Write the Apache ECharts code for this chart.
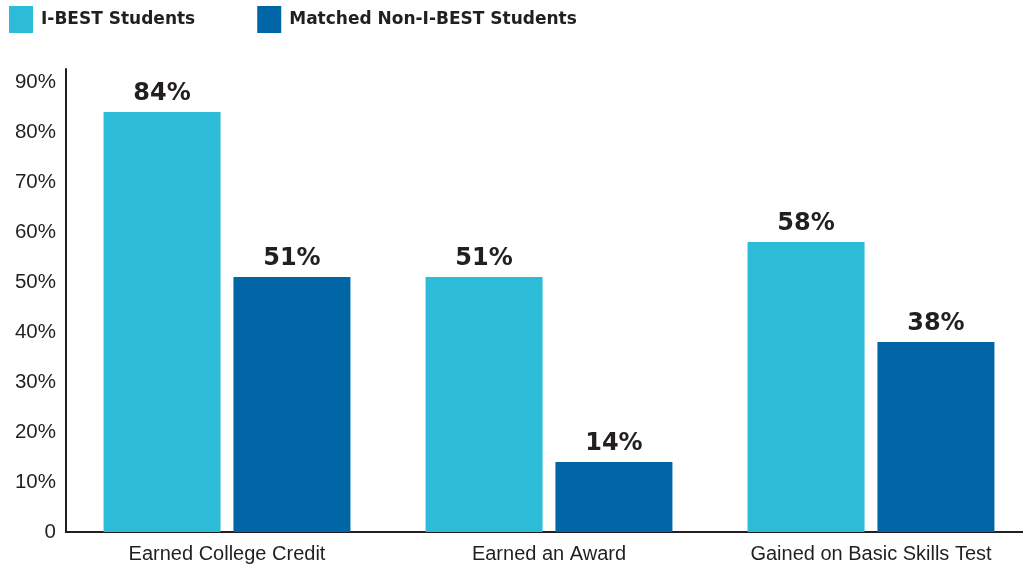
<!DOCTYPE html>
<html>
<head>
<meta charset="utf-8">
<script src="https://cdn.jsdelivr.net/npm/echarts@6/dist/echarts.min.js"></script>
<style>
	html, body { margin: 0; padding: 0; background: #fff; overflow: hidden; }
	#chart { width: 1040px; height: 569px; }
</style>
</head>
<body>
<div id="chart"></div>
<script>
var categories = ['Earned College Credit', 'Earned an Award', 'Gained on Basic Skills Test'];
var seriesNames = ['I-BEST Students', 'Matched Non-I-BEST Students'];
var ibest = [84, 51, 58];
var nonIbest = [51, 14, 38];
var yTicks = [0, 10, 20, 30, 40, 50, 60, 70, 80, 90];

var ink = '#231f20';
var chart = echarts.init(document.getElementById('chart'));

var labelStyle = {
	show: true,
	position: 'top',
	distance: 6,
	formatter: '{c}%',
	color: ink,
	fontFamily: 'DejaVu Sans, sans-serif',
	fontWeight: 'bold',
	fontSize: 24
};

var option = {
	animation: false,
	legend: {
		left: 9,
		top: 6,
		padding: 0,
		itemWidth: 24,
		itemHeight: 27,
		itemGap: 62,
		icon: 'rect',
		textStyle: {
			color: ink,
			fontFamily: 'DejaVu Sans, sans-serif',
			fontWeight: 'bold',
			fontSize: 17,
			padding: [0, 0, 0, 3]
		},
		data: seriesNames
	},
	grid: {
		left: 66,
		top: 69,
		width: 966,
		height: 463
	},
	xAxis: {
		type: 'category',
		data: categories,
		axisLine: { lineStyle: { color: ink, width: 2 } },
		axisTick: { show: false },
		axisLabel: {
			color: ink,
			fontFamily: 'Liberation Sans, Arial, sans-serif',
			fontSize: 20,
			margin: 12
		}
	},
	yAxis: {
		type: 'value',
		min: 0,
		max: 92.6,
		interval: 10,
		axisLine: { show: true, lineStyle: { color: ink, width: 2 } },
		axisTick: { show: false },
		splitLine: { show: false },
		axisLabel: {
			color: ink,
			fontFamily: 'Liberation Sans, Arial, sans-serif',
			fontSize: 20.5,
			margin: 10,
			showMaxLabel: false,
			formatter: function (v) {
				if (yTicks.indexOf(v) < 0) return '';
				return v === 0 ? '0' : v + '%';
			}
		}
	},
	series: [
		{
			name: seriesNames[0],
			type: 'bar',
			data: ibest,
			barWidth: 117,
			barGap: '11%',
			itemStyle: { color: '#2cbcd8' },
			label: labelStyle
		},
		{
			name: seriesNames[1],
			type: 'bar',
			data: nonIbest,
			barWidth: 117,
			itemStyle: { color: '#0066a6' },
			label: labelStyle
		}
	]
};

chart.setOption(option);
</script>
</body>
</html>
